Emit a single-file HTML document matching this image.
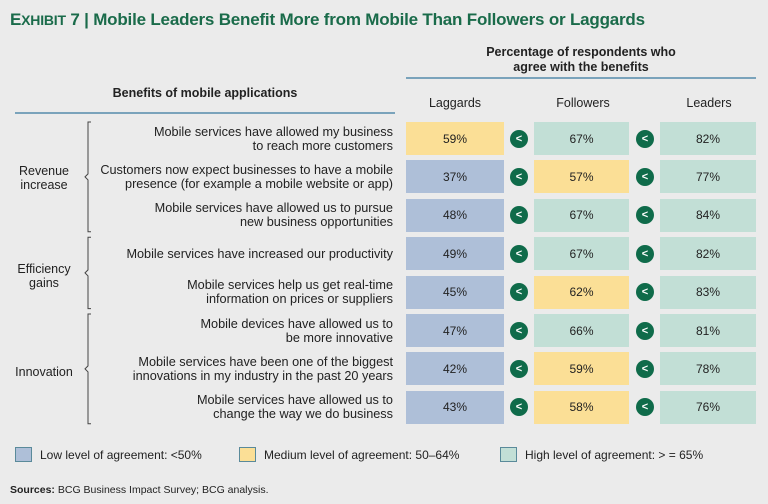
<!DOCTYPE html>
<html><head><meta charset="utf-8"><style>
body{margin:0;width:768px;height:504px;background:#ebebeb;font-family:"Liberation Sans",sans-serif;color:#222;position:relative;overflow:hidden}
.a{position:absolute}
.title{left:10px;top:10px;font-size:17px;font-weight:bold;color:#1a6b4a;white-space:nowrap;letter-spacing:-0.2px}
.hdr{font-size:12.5px;font-weight:bold;text-align:center;color:#222}
.col{font-size:12.5px;text-align:center;width:98px}
.desc{right:375px;text-align:right;font-size:12.7px;line-height:14px;white-space:nowrap}
.box{height:33px;font-size:12px;display:flex;align-items:center;justify-content:center}
.lt{width:18px;height:18px;border-radius:50%;background:#0f6b4a;color:#fff;font-size:11px;font-weight:bold;display:flex;align-items:center;justify-content:center}
.grp{font-size:12.5px;text-align:center;width:80px;left:4px;line-height:14px}
.leg{font-size:12px;top:447px;display:flex;align-items:center;gap:8px}
.sw{width:17px;height:15px;border:1px solid #5a8a9a;box-sizing:border-box}
</style></head><body>
<div class="a title">E<span style="font-size:14px">XHIBIT</span> 7 | Mobile Leaders Benefit More from Mobile Than Followers or Laggards</div>
<div class="a hdr" style="left:406px;top:45px;width:350px;line-height:15px">Percentage of respondents who<br>agree with the benefits</div>
<div class="a" style="left:406px;top:77px;width:350px;height:2px;background:#7aa3bb"></div>
<div class="a hdr" style="left:15px;top:86px;width:380px">Benefits of mobile applications</div>
<div class="a" style="left:15px;top:112px;width:380px;height:2px;background:#7aa3bb"></div>
<div class="a col" style="left:406px;top:96px">Laggards</div>
<div class="a col" style="left:534px;top:96px">Followers</div>
<div class="a col" style="left:660px;top:96px">Leaders</div>
<div id="rows"></div>
<svg class="a" style="left:0;top:0" width="768" height="504" id="br"></svg>
<div class="a grp" style="top:164px">Revenue<br>increase</div>
<div class="a grp" style="top:262px">Efficiency<br>gains</div>
<div class="a grp" style="top:365px">Innovation</div>
<div class="a leg" style="left:15px"><div class="sw" style="background:#aebfd8"></div>Low level of agreement: &lt;50%</div>
<div class="a leg" style="left:239px"><div class="sw" style="background:#fbdf96"></div>Medium level of agreement: 50–64%</div>
<div class="a leg" style="left:500px"><div class="sw" style="background:#c2dfd6"></div>High level of agreement: &gt; = 65%</div>
<div class="a" style="left:10px;top:484px;font-size:10.5px"><b>Sources:</b> BCG Business Impact Survey; BCG analysis.</div>
<script>
const benefits=[
"Mobile services have allowed my business<br>to reach more customers",
"Customers now expect businesses to have a mobile<br>presence (for example a mobile website or app)",
"Mobile services have allowed us to pursue<br>new business opportunities",
"Mobile services have increased our productivity",
"Mobile services help us get real-time<br>information on prices or suppliers",
"Mobile devices have allowed us to<br>be more innovative",
"Mobile services have been one of the biggest<br>innovations in my industry in the past 20 years",
"Mobile services have allowed us to<br>change the way we do business"];
const laggards=[59,37,48,49,45,47,42,43];
const followers=[67,57,67,67,62,66,59,58];
const leaders=[82,77,84,82,83,81,78,76];
const groups=[[0,2],[3,4],[5,7]];
const rowTop=i=>122+i*38.4;
const color=v=>v<50?'#aebfd8':(v<65?'#fbdf96':'#c2dfd6');
const wrap=document.getElementById('rows');
benefits.forEach((t,i)=>{
  const y=rowTop(i);
  const d=document.createElement('div');d.className='a desc';d.innerHTML=t;
  const lines=t.split('<br>').length;
  d.style.top=(y+16.5-lines*7)+'px';
  
  
  wrap.appendChild(d);
  [[laggards,406,98],[followers,534,95],[leaders,660,96]].forEach(([arr,x,w],k)=>{
    const b=document.createElement('div');b.className='a box';
    b.style.cssText=`left:${x}px;top:${y}px;width:${w}px;background:${color(arr[i])}`;
    b.textContent=arr[i]+'%';
    
    
    wrap.appendChild(b);
  });
  [510,636].forEach(x=>{
    const c=document.createElement('div');c.className='a lt';
    c.style.left=x+'px';c.style.top=(y+7.5)+'px';c.textContent='<';
    
    
    wrap.appendChild(c);
  });
});
const svg=document.getElementById('br');
groups.forEach(([a,b])=>{
  const y1=rowTop(a),y2=rowTop(b)+33,m=(y1+y2)/2;
  const p=document.createElementNS('http://www.w3.org/2000/svg','path');
  p.setAttribute('d',`M91 ${y1} H88 V${m-3} L85 ${m} L88 ${m+3} V${y2} H91`);
  p.setAttribute('fill','none');p.setAttribute('stroke','#444');p.setAttribute('stroke-width','1');
  
  
  svg.appendChild(p);
});
</script>
</body></html>
